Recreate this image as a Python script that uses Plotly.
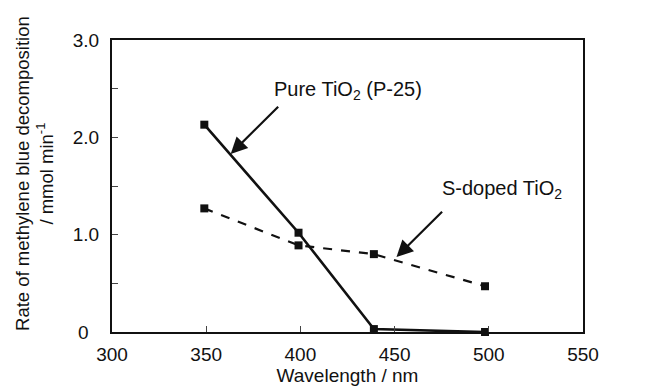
import plotly.graph_objects as go

wavelength = [349, 399, 439, 498]
pure_tio2 = [2.13, 1.02, 0.03, 0.0]
s_doped_tio2 = [1.27, 0.89, 0.80, 0.47]

x_ticks = [300, 350, 400, 450, 500, 550]
y_ticks = [0, 1.0, 2.0, 3.0]
y_tick_text = ["0\u00a0\u00a0", "1.0", "2.0", "3.0"]
y_minor_ticks = [0.5, 1.5, 2.5]

font_family = "Liberation Sans, Arial, sans-serif"
ink = "#111"

fig = go.Figure()
fig.add_trace(go.Scatter(
    x=wavelength, y=pure_tio2, mode="lines+markers",
    line=dict(color=ink, width=2.6),
    marker=dict(symbol="square", size=8, color=ink),
    cliponaxis=False, showlegend=False))
fig.add_trace(go.Scatter(
    x=wavelength, y=s_doped_tio2, mode="lines+markers",
    line=dict(color=ink, width=2.2, dash="dash"),
    marker=dict(symbol="square", size=8, color=ink),
    cliponaxis=False, showlegend=False))

fig.update_layout(
    width=647, height=387,
    margin=dict(l=104, r=72, t=32, b=63),
    paper_bgcolor="white", plot_bgcolor="white",
    font=dict(family=font_family, color=ink, size=19),
    xaxis=dict(range=[300, 550], tickvals=x_ticks, ticks="inside", ticklen=6,
               showline=True, linecolor=ink, linewidth=2, mirror=True,
               showgrid=False, zeroline=False, tickfont=dict(size=19),
               ticklabelstandoff=4,
               title=dict(text="Wavelength / nm", font=dict(size=19), standoff=2)),
    yaxis=dict(range=[0, 3.0], tickvals=y_ticks, ticktext=y_tick_text,
               ticks="inside", ticklen=6,
               minor=dict(tickvals=y_minor_ticks, ticks="inside", ticklen=6),
               showline=True, linecolor=ink, linewidth=2, mirror=True,
               showgrid=False, zeroline=False, tickfont=dict(size=19),
               ticklabelstandoff=7),
)

# y axis title (two lines)
fig.add_annotation(xref="paper", yref="paper", x=-0.166, y=0.544,
                   xanchor="center", yanchor="middle", textangle=-90,
                   text="Rate of methylene blue decomposition<br>/ mmol min<sup>-1</sup>",
                   showarrow=False, font=dict(size=18.5))

# arrows
fig.add_annotation(x=363, y=1.83, ax=389, ay=2.33, xref="x", yref="y", axref="x", ayref="y",
                   text="", showarrow=True, arrowhead=2, arrowsize=1.5, arrowwidth=2.2, arrowcolor=ink)
fig.add_annotation(x=451, y=0.77, ax=476, ay=1.25, xref="x", yref="y", axref="x", ayref="y",
                   text="", showarrow=True, arrowhead=2, arrowsize=1.5, arrowwidth=2.2, arrowcolor=ink)
fig.add_annotation(x=425, y=2.48, xref="x", yref="y", text="Pure TiO<sub>2</sub> (P-25)",
                   showarrow=False, font=dict(size=20))
fig.add_annotation(x=507, y=1.46, xref="x", yref="y", text="S-doped TiO<sub>2</sub>",
                   showarrow=False, font=dict(size=20))

fig.write_html("out.html")
